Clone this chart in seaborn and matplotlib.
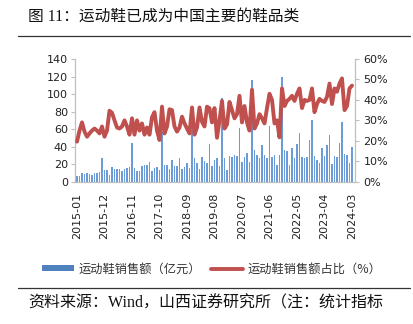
import numpy as np
import pandas as pd
import matplotlib
matplotlib.use("Agg")
import matplotlib.pyplot as plt
import seaborn as sns
from matplotlib.patches import Patch
from matplotlib.lines import Line2D

# ---------------- data ----------------
months = [f"{y}-{m:02d}" for y in range(2015, 2025) for m in range(1, 13)][:111]

sales = [
    6.5, 6, 9.5, 9, 9.5, 9, 8, 9.5, 10, 11, 26.6, 13,
    13, 8, 16.7, 14, 14.5, 15, 12, 14.5, 15.5, 17, 43.7, 16,
    12, 12.5, 18, 18.5, 18.5, 23, 12.5, 15.5, 16.5, 13.5, 57, 19,
    19, 14, 24.7, 18, 18, 26.6, 15, 17, 21, 16, 59, 26.6,
    21.7, 15, 28.5, 24, 21.7, 43, 18, 24.7, 26.6, 18, 95, 27.5,
    13, 29, 28.5, 30, 29, 61, 23, 28.5, 33, 23, 116, 36,
    30, 26.6, 42, 30, 26.6, 63, 28.5, 30, 19, 30, 119, 36,
    35, 19, 38, 26.6, 43, 56, 28.5, 26.6, 28.5, 48, 70, 29,
    24.7, 21, 38, 29, 42, 53, 20, 29, 28.5, 44, 68, 32,
    30, 21.7, 40,
]

share = [
    19.6, 25, 29, 24.5, 22, 23.6, 25, 26, 25, 23.6, 27, 22,
    25, 34.7, 33.7, 30, 26.5, 26, 27, 30, 27, 23, 31, 23,
    30, 25, 28.5, 23, 26.5, 23, 31.5, 34, 25, 20.4, 36.7, 23.6,
    27, 35.4, 35, 27, 24.5, 26.5, 31.8, 28.5, 26, 23.6, 36.3, 23,
    26.5, 36.3, 29.3, 27, 36.7, 35.9, 29, 36, 21.5, 30, 39.5, 26,
    28, 39, 35, 31, 33, 42, 29, 37, 29, 25, 45, 26,
    28.5, 33, 31, 28.5, 36, 43, 40, 28.5, 30, 21.7, 45.6, 37,
    39.5, 40.5, 42, 39.5, 43, 45.6, 36, 40, 39.5, 40, 45.6, 34,
    38, 40.5, 39.5, 39, 41.5, 48, 38, 45.6, 44, 48, 50.5, 35,
    37, 45.6, 47,
]

tick_labels = ["2015-01", "2015-12", "2016-11", "2017-10", "2018-09", "2019-08",
               "2020-07", "2021-06", "2022-05", "2023-04", "2024-03"]
left_ticks = [0, 20, 40, 60, 80, 100, 120, 140]
right_ticks = [0, 10, 20, 30, 40, 50, 60]

title = "图 11：运动鞋已成为中国主要的鞋品类"
bar_label = "运动鞋销售额（亿元）"
line_label = "运动鞋销售额占比（%）"
source = "资料来源：Wind，山西证券研究所（注：统计指标"

# ---------------- style ----------------
sns.set_style("white")
plt.rcParams["font.family"] = ["DejaVu Sans", "Noto Sans CJK SC"]

BLUE = "#6B9BD9"
RED = "#C0504D"
GRAY = "#BFBFBF"

df = pd.DataFrame({"month": months, "sales": sales, "share": share})
df["pos"] = np.arange(len(df))

W, H = 414, 324
fig = plt.figure(figsize=(W / 100, H / 100), dpi=100)
ax = fig.add_axes([75 / W, 1 - 181.7 / H, 280 / W, 122.7 / H])

sns.barplot(data=df, x="month", y="sales", ax=ax, color=BLUE, saturation=1,
            width=0.42, linewidth=0, zorder=2)
ax2 = ax.twinx()
sns.lineplot(data=df, x="pos", y="share", ax=ax2, color=RED, linewidth=2.8,
             zorder=3)

ax.set_xlim(-0.8, 111.2)
ax.set_ylim(0, 140)
ax2.set_ylim(0, 60)
ax.set_yticks(left_ticks)
ax.set_yticklabels([str(v) for v in left_ticks], fontsize=8, color="#222222")
ax2.set_yticks(right_ticks)
ax2.set_yticklabels([f"{v}%" for v in right_ticks], fontsize=8, color="#222222")
ax.set_xticks(list(range(0, 111, 11)))
ax.set_xticklabels(tick_labels, rotation=90, fontsize=8, color="#222222")
ax.set_xlabel("")
ax.set_ylabel("")
ax2.set_xlabel("")
ax2.set_ylabel("")

for a in (ax, ax2):
    a.spines["top"].set_visible(False)
    for s in ("left", "right", "bottom"):
        a.spines[s].set_color(GRAY)
        a.spines[s].set_linewidth(0.8)
    a.grid(False)
ax.tick_params(axis="y", length=3, color=GRAY, pad=2, direction="out", left=True)
ax.tick_params(axis="x", length=0, pad=8)
ax2.tick_params(axis="y", length=3, color=GRAY, pad=3, direction="out", right=True)
ax2.set_zorder(ax.get_zorder() + 1)

# title and rules
fig.text(28 / W, 1 - 17 / H, title, fontsize=11.3, va="center", ha="left",
         family=["Liberation Serif", "Noto Sans CJK SC"], color="#111111")
fig.add_artist(Line2D([18 / W, 410 / W], [1 - 35.5 / H, 1 - 35.5 / H],
                      color="#333333", linewidth=0.9))
fig.add_artist(Line2D([18 / W, 410 / W], [1 - 288 / H, 1 - 288 / H],
                      color="#333333", linewidth=0.9))
fig.text(28 / W, 1 - 303 / H, source, fontsize=11.5, va="center", ha="left",
         family=["Liberation Serif", "Noto Sans CJK SC"], color="#111111")

# legend
handles = [Patch(facecolor="#4F81BD", edgecolor="none"),
           Line2D([0], [0], color=RED, linewidth=2.8)]
leg = fig.legend(handles, [bar_label, line_label], loc="center",
                 bbox_to_anchor=(212 / W, 1 - 269 / H), ncol=2, frameon=False,
                 handlelength=2.6, handleheight=0.4,
                 columnspacing=0.8, handletextpad=0.4,
                 prop={"family": ["Noto Sans CJK SC"], "size": 8.8})
for t in leg.get_texts():
    t.set_color("#333333")

fig.savefig("out.png", dpi=100)
